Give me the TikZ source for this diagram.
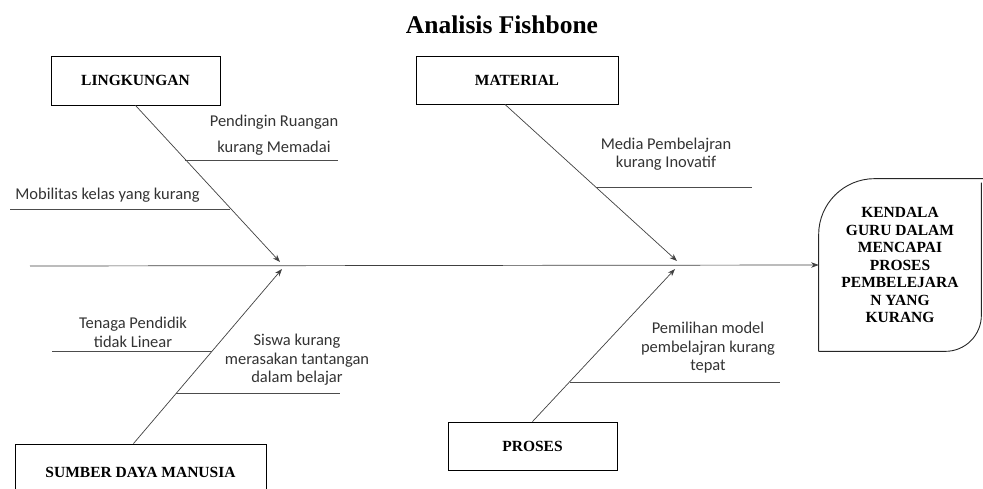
\documentclass[tikz,border=0pt]{standalone}
\usepackage{fontspec}
\setmainfont{Carlito}
\newfontfamily\boxfont{Liberation Serif}
\usepackage{tikz}
\usetikzlibrary{arrows.meta}
\usetikzlibrary{positioning}

\begin{document}
\begin{tikzpicture}[x=1pt,y=-1pt,>={Stealth[length=7.5pt,width=5.5pt]},line width=0.7pt,
    cat node/.style={draw,rectangle,line width=0.9pt,font=\boxfont\bfseries\fontsize{15.5}{17.5}\selectfont,text=black},
    cause node/.style={align=center,text=black!80,font=\fontsize{16.5}{18.5}\selectfont,inner sep=0pt},
    bone/.style={->,draw=black!75,line width=0.7pt},
    rib/.style={-,draw=black!70,line width=0.6pt}]
  \useasboundingbox (0,0) rectangle (983,489);
  \clip (0,0) rectangle (983,489);
  \begin{scope}
    % title
    \node[font=\boxfont\bfseries\fontsize{25.5}{30}\selectfont] (title) at (502,25) {Analisis Fishbone};
    % category boxes
    \node[cat node,minimum width=169,minimum height=49] (ling) at (135.5,80.5) {LINGKUNGAN};
    \node[cat node,minimum width=202,minimum height=48] (mat) at (517,80) {MATERIAL};
    \node[cat node,minimum width=251,minimum height=56] (sdm) at (140.5,472) {SUMBER DAYA MANUSIA};
    \node[cat node,minimum width=169,minimum height=48] (pros) at (532.5,446) {PROSES};
    % head
    \node[minimum width=162,minimum height=172,inner sep=0pt,align=center,
      font=\boxfont\bfseries\fontsize{15.5}{17.5}\selectfont] (head) at (900,265)
      {KENDALA\\GURU DALAM\\MENCAPAI\\PROSES\\PEMBELEJARA\\N YANG\\KURANG};
    \draw[line width=0.9pt,black!85,rounded corners=56pt] (head.south west) -- (head.north west) -- ([xshift=4]head.north east);
    \draw[line width=0.9pt,black!85,rounded corners=36pt] ([yshift=-4]head.north east) -- (head.south east) -- (head.south west);
    % spine
    \coordinate (tail) at (30,266);
    \coordinate (jl) at (280,262);
    \coordinate (js) at (282,269);
    \coordinate (jm) at (677,261);
    \coordinate (jp) at (675,269);
    \draw[bone] (tail) -- (head.west);
    \draw[bone] (ling.south) -- (jl);
    \draw[bone] ([xshift=-12]mat.south) -- (jm);
    \draw[bone] ([xshift=-7]sdm.north) -- (js);
    \draw[bone] (pros.north) -- (jp);
    % ribs
    \coordinate (r1a) at (185,160);   \coordinate (r1b) at (338,160);
    \coordinate (r2a) at (10,209);    \coordinate (r2b) at (230,209);
    \coordinate (r3a) at (596,187);   \coordinate (r3b) at (752,187);
    \coordinate (r4a) at (52,351);    \coordinate (r4b) at (212,351);
    \coordinate (r5a) at (176,393);   \coordinate (r5b) at (340,393);
    \coordinate (r6a) at (570,382);   \coordinate (r6b) at (780,382);
    \draw[rib] (r1a) -- (r1b);
    \draw[rib] (r2a) -- (r2b);
    \draw[rib] (r3a) -- (r3b);
    \draw[rib] (r4a) -- (r4b);
    \draw[rib] (r5a) -- (r5b);
    \draw[rib] (r6a) -- (r6b);
    % causes
    \node[cause node] (c1) at (274,135) {Pendingin Ruangan\\[7pt]kurang Memadai};
    \node[cause node] (c2) at (107.5,195) {Mobilitas kelas yang kurang};
    \node[cause node] (c3) at (666,154) {Media Pembelajran\\kurang Inovatif};
    \node[cause node] (c4) at (133,332.5) {Tenaga Pendidik\\tidak Linear};
    \node[cause node] (c5) at (297,360) {Siswa kurang\\merasakan tantangan\\dalam belajar};
    \node[cause node] (c6) at (708,348) {Pemilihan model\\pembelajran kurang\\tepat};
  \end{scope}
\end{tikzpicture}
\end{document}
